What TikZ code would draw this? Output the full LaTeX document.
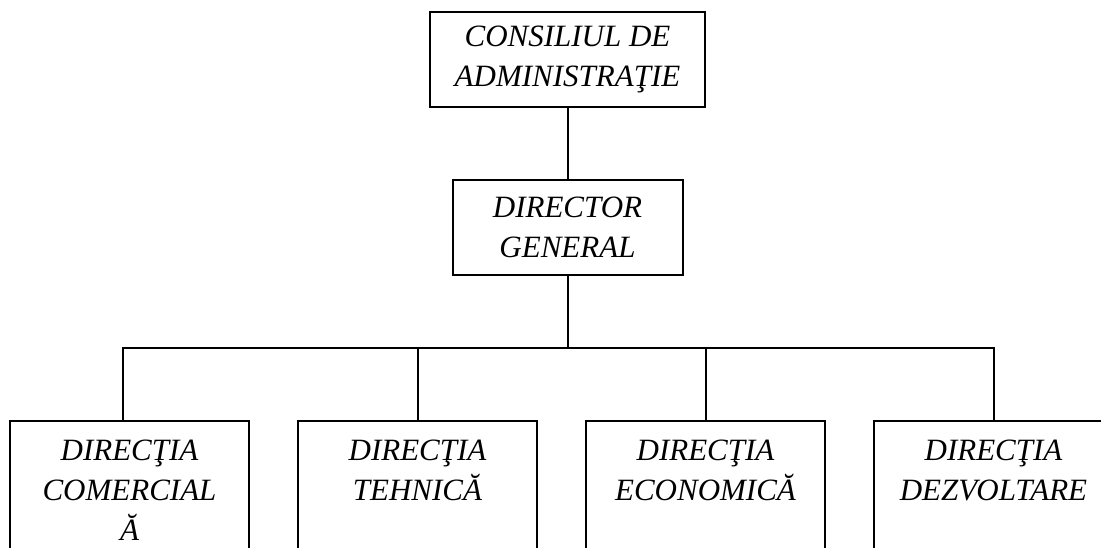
\documentclass[tikz,border=0pt]{standalone}
\usepackage{fontspec}
\setmainfont{Liberation Serif}
\usepackage{tikz}

\begin{document}
\begin{tikzpicture}[x=1pt,y=-1pt,line width=2pt,
  box/.style={draw,align=center,font=\itshape\fontsize{31}{40}\selectfont},
  unit/.style={box,anchor=north,minimum width=239pt,inner ysep=19pt,text depth=120pt}]
\useasboundingbox (0,0) rectangle (1101,547);
\clip (0,0) rectangle (1101,547);
\node[box,minimum width=275pt,minimum height=95pt] (cons) at (567.5,59.5) {CONSILIUL DE\\ADMINISTRAŢIE};
\node[box,minimum width=230pt,minimum height=95pt] (dg) at (567.5,227.5) {DIRECTOR\\GENERAL};
\node[unit] (dc) at (129.5,420) {DIRECŢIA\\COMERCIAL\\Ă};
\node[unit] (dt) at (417.5,420) {DIRECŢIA\\TEHNICĂ};
\node[unit] (de) at (705.5,420) {DIRECŢIA\\ECONOMICĂ};
\node[unit] (dz) at (993.5,420) {DIRECŢIA\\DEZVOLTARE};
\coordinate (bus) at (567.5,347.5);
\draw (cons) -- (dg);
\draw (dg) -- (bus);
\draw ([xshift=-6.5pt]dc.north) |- (bus) -| (dz.north);
\draw (dt.north) -- (dt.north |- bus);
\draw (de.north) -- (de.north |- bus);
\end{tikzpicture}
\end{document}
